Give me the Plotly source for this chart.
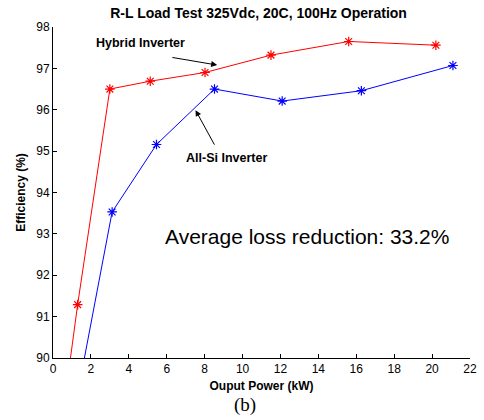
import plotly.graph_objects as go

# Measured efficiency vs output power
hybrid_kw = [0.6, 1.3, 3.0, 5.13, 8.02, 11.5, 15.6, 20.2]
hybrid_eff = [88.9, 91.29, 96.5, 96.69, 96.9, 97.32, 97.65, 97.56]

allsi_kw = [1.2, 3.12, 5.46, 8.52, 12.09, 16.27, 21.1]
allsi_eff = [88.9, 93.53, 95.16, 96.5, 96.21, 96.46, 97.07]

x_ticks = list(range(0, 23, 2))
y_ticks = list(range(90, 99))

SANS = "Arial, Liberation Sans, Helvetica, sans-serif"

fig = go.Figure()

fig.add_trace(go.Scatter(
    x=hybrid_kw, y=hybrid_eff, mode="lines+markers",
    line=dict(color="#ff0000", width=1),
    marker=dict(symbol="asterisk-open", size=8, color="#ff0000",
                line=dict(color="#ff0000", width=1.2)),
    name="Hybrid Inverter", showlegend=False,
))
fig.add_trace(go.Scatter(
    x=allsi_kw, y=allsi_eff, mode="lines+markers",
    line=dict(color="#0000ff", width=1),
    marker=dict(symbol="asterisk-open", size=8, color="#0000ff",
                line=dict(color="#0000ff", width=1.2)),
    name="All-Si Inverter", showlegend=False,
))

# Series labels with arrows
fig.add_annotation(x=4.61, y=97.61, text="<b>Hybrid Inverter</b>", showarrow=False,
                   font=dict(family=SANS, size=12.5, color="black"))
fig.add_annotation(x=8.66, y=97.08, ax=6.22, ay=97.27, axref="x", ayref="y",
                   text="", showarrow=True, arrowhead=2, arrowsize=1.2,
                   arrowwidth=1, arrowcolor="black")
fig.add_annotation(x=9.13, y=94.83, text="<b>All-Si Inverter</b>", showarrow=False,
                   font=dict(family=SANS, size=12.5, color="black"))
fig.add_annotation(x=7.52, y=95.99, ax=8.56, ay=95.12, axref="x", ayref="y",
                   text="", showarrow=True, arrowhead=2, arrowsize=1.2,
                   arrowwidth=1, arrowcolor="black")

fig.add_annotation(x=13.39, y=92.93, text="Average loss reduction: 33.2%",
                   showarrow=False, font=dict(family=SANS, size=21, color="black"))

fig.add_annotation(x=0.46, xref="paper", y=-0.143, yref="paper", yanchor="middle",
                   text="(b)", showarrow=False,
                   font=dict(family="Liberation Serif, Times New Roman, serif", size=19,
                             color="black"))

fig.update_layout(
    width=484, height=420,
    margin=dict(l=53, r=7, t=27, b=62),
    paper_bgcolor="white", plot_bgcolor="white",
    title=dict(text="<b>R-L Load Test 325Vdc, 20C, 100Hz Operation</b>",
               x=0.493, xref="paper", xanchor="center",
               y=0.969, yanchor="middle",
               font=dict(family=SANS, size=14, color="black")),
    font=dict(family=SANS, size=12, color="black"),
)

fig.update_xaxes(
    range=[0, 22], tickvals=x_ticks, ticks="inside", ticklen=4,
    tickcolor="black", showgrid=False, zeroline=False,
    showline=True, linecolor="black", linewidth=1,
    tickfont=dict(family=SANS, size=12, color="black"),
    title=dict(text="<b>Ouput Power (kW)</b>", standoff=6,
               font=dict(family=SANS, size=12, color="black")),
)
fig.update_yaxes(
    range=[90, 98], tickvals=y_ticks, ticks="inside", ticklen=4,
    tickcolor="black", showgrid=False, zeroline=False,
    showline=True, linecolor="black", linewidth=1,
    tickfont=dict(family=SANS, size=12, color="black"),
    title=dict(text="<b>Efficiency (%)</b>", standoff=8,
               font=dict(family=SANS, size=12, color="black")),
)

fig.write_html("out.html")
